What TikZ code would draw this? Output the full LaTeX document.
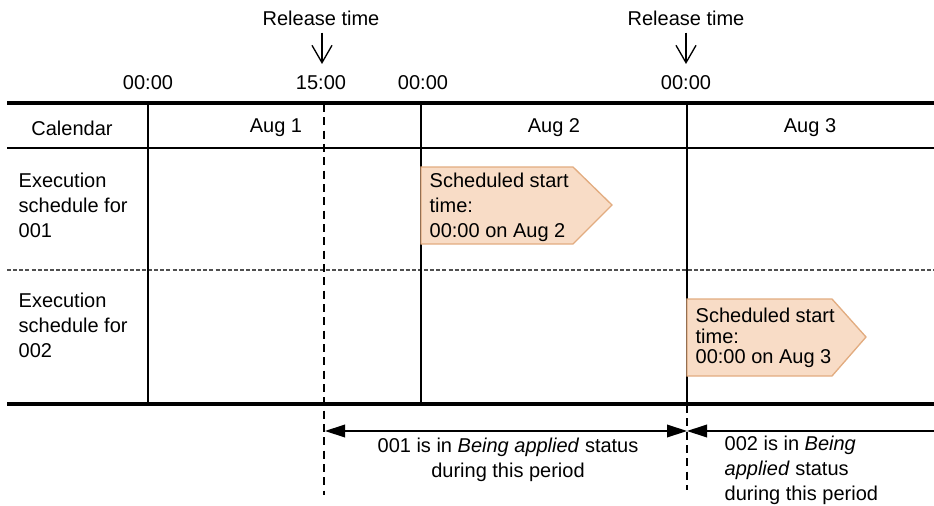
\documentclass[tikz,border=0pt]{standalone}
\usepackage{fontspec}
\setmainfont{Liberation Sans}
\usepackage{tikz}
\usetikzlibrary{arrows.meta, positioning, calc}
\definecolor{boxfill}{RGB}{248, 220, 198}
\definecolor{boxedge}{RGB}{226, 172, 128}
\definecolor{sepgray}{RGB}{80, 80, 80}

\begin{document}
\begin{tikzpicture}[x=0.75pt, y=-0.75pt, line width=1pt,
  txt/.style={font=\fontsize{15}{18.75}\selectfont, inner sep=0pt},
  rule/.style={line width=3pt},
  rowsep/.style={sepgray, dash pattern=on 3pt off 1.6pt},
  timeline/.style={dash pattern=on 6pt off 4pt},
  schedbox/.style={fill=boxfill, draw=boxedge, line width=1pt},
  relarrow/.style={-{Straight Barb[length=13pt, width=15pt, line width=1pt]}},
  span/.style={{Triangle[length=15pt, width=9.5pt]}-{Triangle[length=15pt, width=9.5pt]}}]
  \useasboundingbox (0,0) rectangle (934,506);
  % Release times
  \node[txt] (rel1) at (321,18) {Release time};
  \node[txt] (rel2) at (686,18) {Release time};
  \coordinate (tip1) at (322,64);
  \coordinate (tip2) at (686,64);
  \draw[relarrow] ([yshift=-5pt]rel1.south -| tip1) -- (tip1);
  \draw[relarrow] ([yshift=-5pt]rel2.south -| tip2) -- (tip2);
  % Time marks
  \node[txt] (t1) at (148,83) {00:00};
  \node[txt] (t2) at (321,83) {15:00};
  \node[txt] (t3) at (423,83) {00:00};
  \node[txt] (t4) at (686,83) {00:00};
  % Table rules
  \draw[rule] (7,103) -- (934,103);
  \draw[rule] (7,404) -- (934,404);
  \draw (7,148) -- (934,148);
  \draw[rowsep] (7,270) -- (934,270);
  \foreach \x in {148, 421, 687} {
    \draw (\x,103) -- (\x,404);
  }
  \draw[timeline] (324,104) -- (324,495);
  \draw[timeline] (687,405) -- (687,490);
  % Header row
  \node[txt] (cal) at (72,128) {Calendar};
  \node[txt] (aug1) at (276,128) {Aug 1};
  \node[txt] (aug2) at (554,128) {Aug 2};
  \node[txt] (aug3) at (810,128) {Aug 3};
  % Row labels
  \node[txt, align=left, anchor=west] (row1) at (18,205)
    {Execution\\schedule for\\001};
  \node[txt, align=left, anchor=west] (row2) at (18,325)
    {Execution\\schedule for\\002};
  % Scheduled start times
  \draw[schedbox] (421,167) -- (573,167) -- (612,205) -- (573,244) -- (421,244) -- cycle;
  \node[txt, align=left, anchor=west] (start1) at (429,207)
    {Scheduled start\\time:\\00:00 on Aug 2};
  \draw[schedbox] (687,299) -- (832,299) -- (866,337) -- (832,376) -- (687,376) -- cycle;
  \node[txt, align=left, anchor=west, font=\fontsize{15}{15.4}\selectfont] (start2) at (695,338)
    {Scheduled start\\time:\\00:00 on Aug 3};
  % Being applied periods
  \coordinate (p1) at (325,431);
  \coordinate (p2) at (687,431);
  \coordinate (p3) at (934,431);
  \draw[span] (p1) -- (p2);
  \draw[-{Triangle[length=15pt, width=9.5pt]}] (p3) -- (p2);
  \node[txt, align=center] (per1) at (508,460)
    {001 is in \textit{Being applied} status\\during this period};
  \node[txt, align=left, anchor=west] (per2) at (724,470)
    {002 is in \textit{Being}\\\textit{applied} status\\during this period};
\end{tikzpicture}
\end{document}
